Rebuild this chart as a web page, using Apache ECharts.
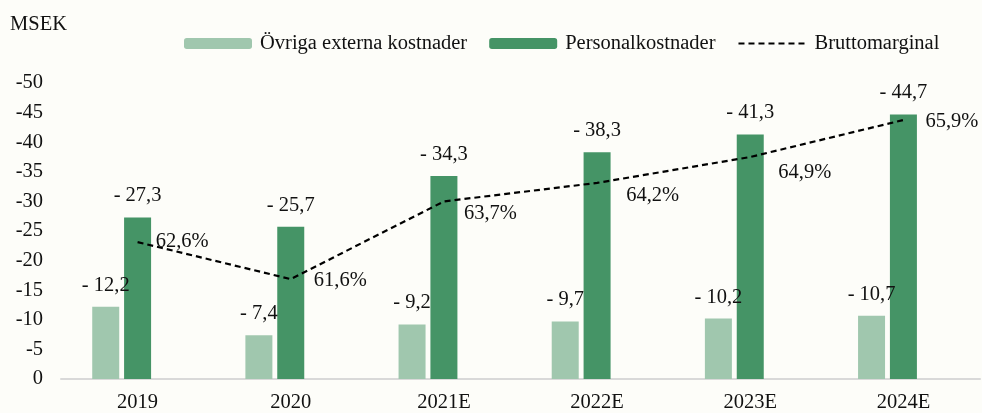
<!DOCTYPE html>
<html>
<head>
<meta charset="utf-8">
<script src="https://cdn.jsdelivr.net/npm/echarts@6/dist/echarts.min.js"></script>
<style>
  html, body { margin: 0; padding: 0; background: #fdfdf9; }
  #chart { width: 982px; height: 413px; }
</style>
</head>
<body>
<div id="chart"></div>
<script>
  // data
  var years = ['2019', '2020', '2021E', '2022E', '2023E', '2024E'];
  var ovrigaExterna = [-12.2, -7.4, -9.2, -9.7, -10.2, -10.7];
  var personal = [-27.3, -25.7, -34.3, -38.3, -41.3, -44.7];
  var bruttomarginal = [62.6, 61.6, 63.7, 64.2, 64.9, 65.9];

  // label nudges for the margin line (layout only)
  var marginLabelOffsets = [[18, 0], [23, 2], [20, 12], [29, 13], [28, 16], [22, 2]];

  var font = 'Liberation Serif';
  var fs = 20.5;
  var txt = '#111';

  function msek(v) {
    return '- ' + Math.abs(v).toFixed(1).replace('.', ',');
  }

  var chart = echarts.init(document.getElementById('chart'));

  var option = {
    backgroundColor: '#fdfdf9',
    textStyle: { fontFamily: font, color: txt },
    title: {
      text: 'MSEK',
      left: 5,
      top: 9,
      textStyle: { fontFamily: font, fontSize: fs, fontWeight: 'normal', color: txt }
    },
    legend: {
      data: [
        { name: 'Övriga externa kostnader' },
        { name: 'Personalkostnader' },
        { name: 'Bruttomarginal', itemStyle: { opacity: 0 } }
      ],
      left: 179,
      top: 28,
      itemWidth: 68,
      itemHeight: 11,
      itemGap: 22,
      textStyle: { fontFamily: font, fontSize: fs, color: txt, padding: [0, 0, 0, 3] }
    },
    grid: { left: 61, right: 2, top: 83, bottom: 34 },
    xAxis: {
      type: 'category',
      data: years,
      axisLine: { lineStyle: { color: '#d9d9d9', width: 2 } },
      axisTick: { show: false },
      axisLabel: { fontFamily: font, fontSize: fs, color: txt, margin: 13 }
    },
    yAxis: [{
      type: 'value',
      min: -50,
      max: 0,
      interval: 5,
      inverse: true,
      splitLine: { show: false },
      axisLine: { show: false },
      axisTick: { show: false },
      axisLabel: { fontFamily: font, fontSize: fs, color: txt, margin: 18 }
    }, {
      type: 'value',
      min: 58.9,
      max: 66.9,
      show: false,
      splitLine: { show: false }
    }],
    series: [{
      name: 'Övriga externa kostnader',
      type: 'bar',
      data: ovrigaExterna,
      barWidth: 27,
      barGap: '18%',
      itemStyle: { color: '#a0c7ae' },
      label: {
        show: true, position: 'top', distance: 11,
        fontFamily: font, fontSize: fs, color: txt,
        formatter: function (p) { return msek(p.value); }
      }
    }, {
      name: 'Personalkostnader',
      type: 'bar',
      data: personal,
      barWidth: 27,
      barGap: '18%',
      itemStyle: { color: '#459466' },
      label: {
        show: true, position: 'top', distance: 11,
        fontFamily: font, fontSize: fs, color: txt,
        formatter: function (p) { return msek(p.value); }
      }
    }, {
      // empty third slot, keeps the bar pair shifted left like the original
      name: 'slot',
      type: 'bar',
      data: [],
      barWidth: 27,
      barGap: '18%'
    }, {
      name: 'Bruttomarginal',
      type: 'line',
      yAxisIndex: 1,
      symbol: 'circle',
      symbolSize: 0.1,
      z: 5,
      itemStyle: { color: '#000' },
      lineStyle: { color: '#000', width: 2.2, type: [6, 4] },
      data: bruttomarginal.map(function (v, i) {
        return {
          value: v,
          label: { offset: marginLabelOffsets[i] }
        };
      }),
      label: {
        show: true, position: 'right', distance: 0,
        fontFamily: font, fontSize: fs, color: txt,
        formatter: function (p) { return p.value.toFixed(1).replace('.', ',') + '%'; }
      }
    }]
  };

  chart.setOption(option);
  window.addEventListener('resize', function () { chart.resize(); });
</script>
</body>
</html>
